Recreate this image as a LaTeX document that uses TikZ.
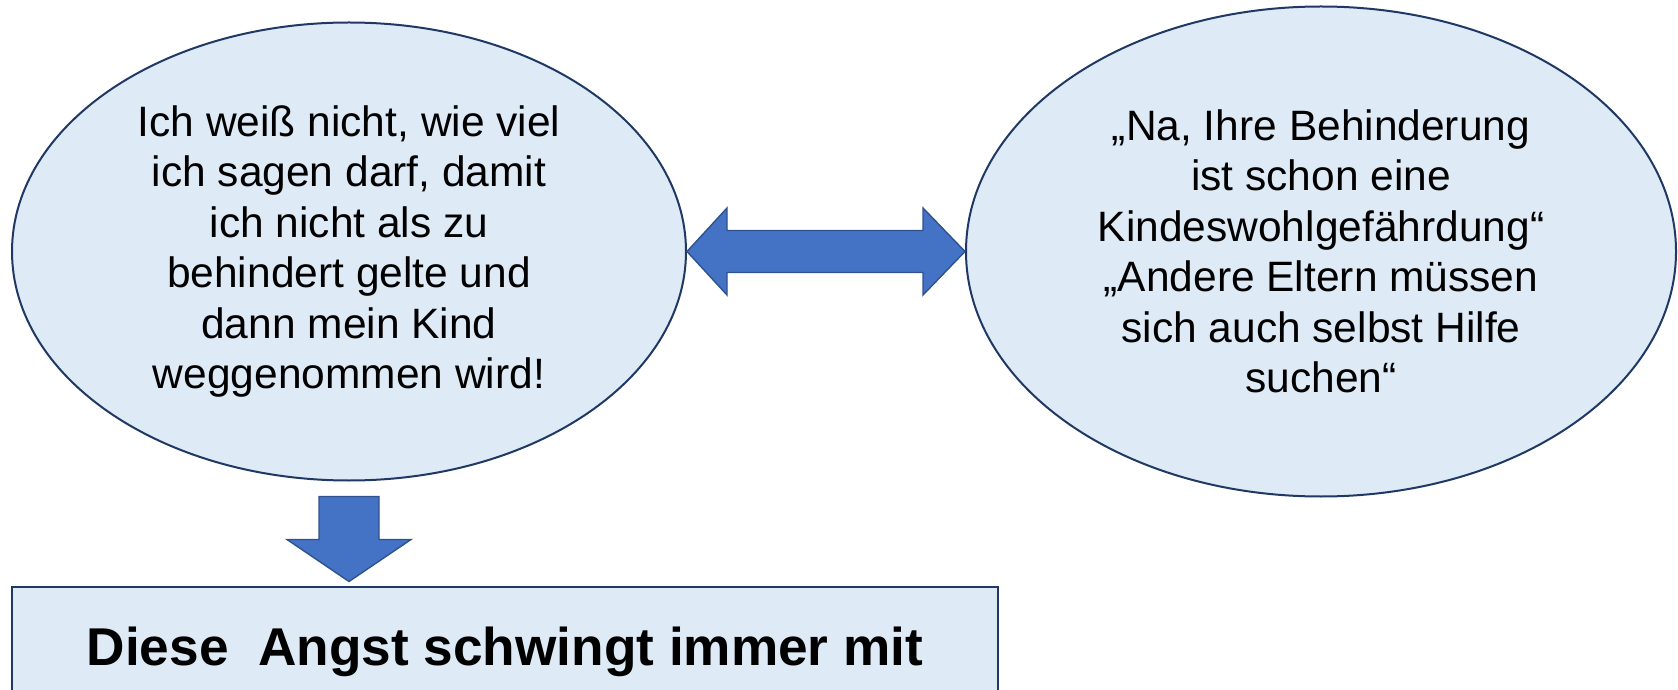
\documentclass[tikz,border=0pt]{standalone}
\usepackage{fontspec}
\setmainfont{Liberation Sans}
\usetikzlibrary{calc,shapes.geometric}
\definecolor{bubblefill}{HTML}{DEEBF7}
\definecolor{bubbleline}{HTML}{1F3864}
\definecolor{arrowfill}{HTML}{4472C4}
\definecolor{arrowline}{HTML}{2F528F}

\begin{document}
\begin{tikzpicture}[x=1pt, y=1pt,
  bubble/.style={ellipse, draw=bubbleline, line width=2pt, fill=bubblefill,
                 align=center, inner sep=0pt,
                 font=\fontsize{42.5}{50.5}\selectfont},
  banner/.style={rectangle, draw=bubbleline, line width=2pt, fill=bubblefill,
                 minimum width=986pt, minimum height=130pt, align=center,
                 font=\fontsize{53.2}{60}\selectfont\bfseries},
  blockarrow/.style={draw=arrowline, line width=1.4pt, fill=arrowfill, line join=miter}]
  \useasboundingbox (0,0) rectangle (1678,689);
  \node[bubble, minimum width=674pt, minimum height=458pt] (fear) at (349,437.5)
    {Ich weiß nicht, wie viel\\ich sagen darf, damit\\ich nicht als zu\\
     behindert gelte und\\dann mein Kind\\weggenommen wird!};
  \node[bubble, minimum width=710pt, minimum height=490pt] (quotes) at (1321,437.5)
    {„Na, Ihre Behinderung\\ist schon eine\\Kindeswohlgefährdung“\\
     „Andere Eltern müssen\\sich auch selbst Hilfe\\suchen“};
  \node[banner] (angst) at (505,37) {\raisebox{5pt}{Diese\ \ Angst schwingt immer mit}};
  % double arrow between the bubbles
  \draw[blockarrow] (fear.east) -- ($(fear.east)+(40,43.5)$) -- ($(fear.east)+(40,21)$)
    -- ($(quotes.west)+(-42,21)$) -- ($(quotes.west)+(-42,43.5)$) -- (quotes.west)
    -- ($(quotes.west)+(-42,-43.5)$) -- ($(quotes.west)+(-42,-21)$)
    -- ($(fear.east)+(40,-21)$) -- ($(fear.east)+(40,-43.5)$) -- cycle;
  % arrow down to the banner
  \draw[blockarrow] ($(fear.south)+(-30,-15)$) -- ($(fear.south)+(30,-15)$)
    -- ($(fear.south)+(30,-58)$) -- ($(fear.south)+(62,-58)$)
    -- ($(fear.south)+(0,-100)$) -- ($(fear.south)+(-62,-58)$)
    -- ($(fear.south)+(-30,-58)$) -- cycle;
\end{tikzpicture}
\end{document}
